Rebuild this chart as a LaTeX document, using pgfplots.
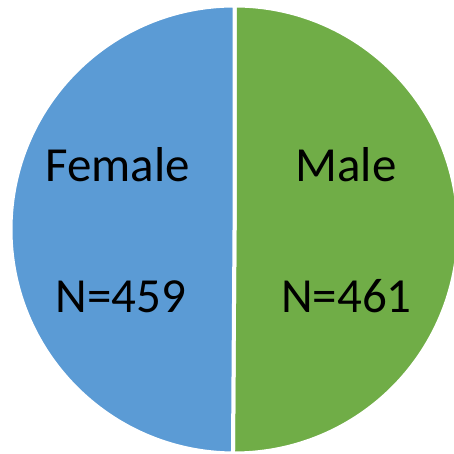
\documentclass[border=0pt]{standalone}
\usepackage{pgfplots}
\pgfplotsset{compat=1.18}
\usepackage{fontspec}
\setmainfont{Carlito}
\definecolor{femblue}{HTML}{5B9BD5}
\definecolor{malegreen}{HTML}{70AD47}
\begin{document}
\begin{tikzpicture}
\useasboundingbox (0,0) rectangle (454bp,454bp);
\def\female{459}
\def\male{461}
\pgfmathsetmacro{\total}{\female+\male}
\pgfmathsetmacro{\frac}{\male/\total}
\pgfmathsetmacro{\maleend}{90-360*\frac}
\begin{axis}[
  at={(0,0)}, anchor=south west,
  scale only axis, width=454bp, height=454bp,
  xmin=0, xmax=454, ymin=0, ymax=454,
  hide axis, clip=true,
]
\fill[malegreen, draw=white, line width=4bp] (axis cs:234.5,224.5) -- (axis cs:234.5,448.5) arc[start angle=90, end angle=\maleend, radius=224bp] -- cycle;
\fill[femblue, draw=white, line width=4bp] (axis cs:234.5,224.5) -- ++(\maleend:224bp) arc[start angle=\maleend, end angle=-270, radius=224bp] -- cycle;
\node[anchor=base, font=\fontsize{49bp}{55bp}\selectfont] at (axis cs:117.5,272) {Female};
\node[anchor=base, font=\fontsize{49bp}{55bp}\selectfont] at (axis cs:121,141) {N=\female};
\node[anchor=base, font=\fontsize{49bp}{55bp}\selectfont] at (axis cs:346,272) {Male};
\node[anchor=base, font=\fontsize{49bp}{55bp}\selectfont] at (axis cs:346.5,141) {N=\male};
\end{axis}
\end{tikzpicture}
\end{document}
